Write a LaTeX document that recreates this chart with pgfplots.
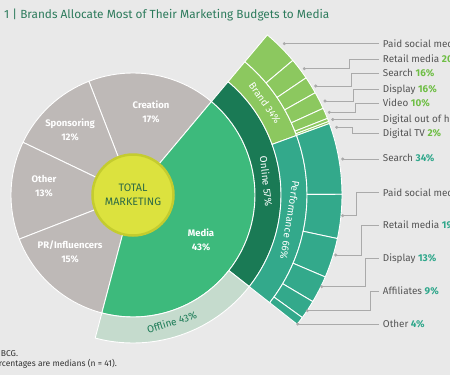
\documentclass[border=0pt]{standalone}
\usepackage{pgfplots}
\pgfplotsset{compat=1.18}
\usepackage{fontspec}
\setmainfont{Fira Sans}
\setsansfont{Fira Sans}
\definecolor{bgc}{HTML}{E9E9E9}
\definecolor{greyc}{HTML}{BEB9B7}
\definecolor{media}{HTML}{3DBA7C}
\definecolor{online}{HTML}{1A7A55}
\definecolor{offline}{HTML}{C5DBCD}
\definecolor{brand}{HTML}{8CC85F}
\definecolor{perf}{HTML}{33A98B}
\definecolor{brandp}{HTML}{6FBE45}
\definecolor{perfp}{HTML}{2FA78B}
\definecolor{lblc}{HTML}{555555}
\definecolor{titlec}{HTML}{2D7B5C}
\definecolor{leadc}{HTML}{AAAAAA}
\definecolor{yel}{HTML}{DCE23E}
\definecolor{yeld}{HTML}{C4CC2F}
\definecolor{totc}{HTML}{2E6B45}
\newcommand{\pie}[4]{\filldraw[fill=#4, draw=white, line width=0.9pt, line join=round] (axis cs:133,195) -- ([shift={(#1:#3pt)}]axis cs:133,195) arc[start angle=#1, delta angle=#2, radius=#3pt] -- cycle;}
\newcommand{\seg}[5]{\filldraw[fill=#5, draw=white, line width=0.9pt, line join=round] ([shift={(#1:#4pt)}]axis cs:133,195) arc[start angle=#1, delta angle=#2, radius=#4pt] -- ([shift={(#1+#2:#3pt)}]axis cs:133,195) arc[start angle=#1+#2, delta angle=-(#2), radius=#3pt] -- cycle;}
\newcommand{\lbl}{\fontsize{9.9}{11}\selectfont\color{lblc}}
\newcommand{\bp}[1]{{\bfseries\color{brandp}#1}}
\newcommand{\pp}[1]{{\bfseries\color{perfp}#1}}
\newcommand{\pl}{\fontsize{9.5}{14}\selectfont\bfseries\color{white}}
\begin{document}
\begin{tikzpicture}
\useasboundingbox (0,0) rectangle (450pt,375pt);
\clip (0,0) rectangle (450pt,375pt);
\fill[bgc] (0,0) rectangle (450pt,375pt);
\begin{axis}[at={(0,0)}, anchor=south west, width=450pt, height=375pt, scale only axis,
  xmin=0, xmax=450, ymin=0, ymax=375, y dir=reverse, hide axis, clip=false, enlargelimits=false]
% total marketing pie
\pie{50}{61.2}{122}{greyc}
\pie{111.2}{43.2}{122}{greyc}
\pie{154.4}{46.8}{122}{greyc}
\pie{201.2}{54}{122}{greyc}
\pie{50}{-154.8}{122}{media}
% online / offline ring
\seg{50}{-88.24}{122}{148}{online}
\seg{-38.24}{-66.56}{122}{148}{offline}
% brand / performance ring
\seg{50}{-30}{148}{174}{brand}
\seg{20}{-58.24}{148}{174}{perf}
% brand channels: 33,20,16,16,10,3,2
\seg{50}{-9.9}{174}{209}{brand}
\seg{40.1}{-6}{174}{209}{brand}
\seg{34.1}{-4.8}{174}{209}{brand}
\seg{29.3}{-4.8}{174}{209}{brand}
\seg{24.5}{-3}{174}{209}{brand}
\seg{21.5}{-0.9}{174}{209}{brand}
\seg{20.6}{-0.6}{174}{209}{brand}
% performance channels: 34,21,19,13,9,4
\seg{20}{-19.8}{174}{209}{perf}
\seg{0.2}{-12.23}{174}{209}{perf}
\seg{-12.03}{-11.06}{174}{209}{perf}
\seg{-23.09}{-7.57}{174}{209}{perf}
\seg{-30.66}{-5.24}{174}{209}{perf}
\seg{-35.9}{-2.33}{174}{209}{perf}
% centre
\filldraw[fill=yel, draw=yeld, line width=2.5pt] (axis cs:133,195) circle[radius=40.5pt];
\node[align=center, font=\fontsize{10.8}{14}\selectfont, text=totc] at (axis cs:133,195) {TOTAL\\MARKETING};
% slice labels
\node[align=center, font=\pl] at (axis cs:151,112) {Creation\\17\%};
\node[align=center, font=\pl] at (axis cs:70,130) {Sponsoring\\12\%};
\node[align=center, font=\pl] at (axis cs:44,186) {Other\\13\%};
\node[align=center, font=\pl] at (axis cs:70,252) {PR/Influencers\\15\%};
\node[align=center, font=\pl] at (axis cs:201,240) {Media\\43\%};
% ring labels
\node[rotate=-84.1, font=\fontsize{10}{12}\selectfont, text=white, inner sep=0] at ([shift={(5.9:134pt)}]axis cs:133,195) {Online 57\%};
\node[rotate=-55, font=\fontsize{10}{12}\selectfont, text=white, inner sep=0] at ([shift={(35:161pt)}]axis cs:133,195) {Brand 34\%};
\node[rotate=-99.1, font=\fontsize{10}{12}\selectfont, text=white, inner sep=0] at ([shift={(-9.1:159pt)}]axis cs:133,195) {Performance 66\%};
\node[rotate=17, font=\fontsize{10}{12}\selectfont, text=online, inner sep=0] at ([shift={(-73:133pt)}]axis cs:133,195) {Offline 43\%};
% leader lines
\addplot[leadc, line width=0.6pt] coordinates {(284.3,43.7) (379,43.7)};
\addplot[leadc, line width=0.6pt] coordinates {(304.3,68.7) (349.3,68.7) (349.3,59) (379,59)};
\addplot[leadc, line width=0.6pt] coordinates {(315.7,86) (351.7,86) (351.7,73.3) (379,73.3)};
\addplot[leadc, line width=0.6pt] coordinates {(325,101) (353.3,101) (353.3,89) (379,89)};
\addplot[leadc, line width=0.6pt] coordinates {(329.3,112.3) (355,112.3) (355,103.3) (379,103.3)};
\addplot[leadc, line width=0.6pt] coordinates {(332.7,119.5) (379,119.5)};
\addplot[leadc, line width=0.6pt] coordinates {(336.7,127.3) (352.7,127.3) (352.7,133.3) (379,133.3)};
\addplot[leadc, line width=0.6pt] coordinates {(342.7,159) (379,159)};
\addplot[leadc, line width=0.6pt] coordinates {(342.7,215.7) (356.7,215.7) (356.7,192.7) (379,192.7)};
\addplot[leadc, line width=0.6pt] coordinates {(335.7,255) (361.7,255) (361.7,225) (379,225)};
\addplot[leadc, line width=0.6pt] coordinates {(321.7,286.7) (365,286.7) (365,258.3) (379,258.3)};
\addplot[leadc, line width=0.6pt] coordinates {(307.3,310.7) (370,310.7) (370,291) (379,291)};
\addplot[leadc, line width=0.6pt] coordinates {(297.7,324) (379,324)};
\addplot[only marks, mark=*, mark size=1.3pt, color=leadc] coordinates {
 (284.3,43.7) (304.3,68.7) (315.7,86) (325,101) (329.3,112.3) (332.7,119.5) (336.7,127.3)
 (342.7,159) (342.7,215.7) (335.7,255) (321.7,286.7) (307.3,310.7) (297.7,324)};
% channel labels
\node[anchor=base west, inner sep=0, font=\lbl] at (axis cs:382.7,47.3) {Paid social media \bp{33\%}};
\node[anchor=base west, inner sep=0, font=\lbl] at (axis cs:382.7,62.6) {Retail media \bp{20\%}};
\node[anchor=base west, inner sep=0, font=\lbl] at (axis cs:382.7,76.9) {Search \bp{16\%}};
\node[anchor=base west, inner sep=0, font=\lbl] at (axis cs:382.7,92.6) {Display \bp{16\%}};
\node[anchor=base west, inner sep=0, font=\lbl] at (axis cs:382.7,106.9) {Video \bp{10\%}};
\node[anchor=base west, inner sep=0, font=\lbl] at (axis cs:382.7,122.6) {Digital out of home \bp{3\%}};
\node[anchor=base west, inner sep=0, font=\lbl] at (axis cs:382.7,136.9) {Digital TV \bp{2\%}};
\node[anchor=base west, inner sep=0, font=\lbl] at (axis cs:382.7,161.9) {Search \pp{34\%}};
\node[anchor=base west, inner sep=0, font=\lbl] at (axis cs:382.7,196.3) {Paid social media \pp{21\%}};
\node[anchor=base west, inner sep=0, font=\lbl] at (axis cs:382.7,228.6) {Retail media \pp{19\%}};
\node[anchor=base west, inner sep=0, font=\lbl] at (axis cs:382.7,261.9) {Display \pp{13\%}};
\node[anchor=base west, inner sep=0, font=\lbl] at (axis cs:382.7,294.6) {Affiliates \pp{9\%}};
\node[anchor=base west, inner sep=0, font=\lbl] at (axis cs:382.7,327.6) {Other \pp{4\%}};
% title and notes
\node[anchor=base west, inner sep=0, font=\fontsize{11.8}{14}\selectfont, text=titlec] at (axis cs:4,18.5) {1 | Brands Allocate Most of Their Marketing Budgets to Media};
\node[anchor=base east, inner sep=0, font=\fontsize{8.5}{10}\selectfont, text=black!80] at (axis cs:18.3,356) {Source: BCG.};
\node[anchor=base east, inner sep=0, font=\fontsize{8.5}{10}\selectfont, text=black!80] at (axis cs:117,366.5) {Note: Percentages are medians (n = 41).};
\end{axis}
\end{tikzpicture}
\end{document}
